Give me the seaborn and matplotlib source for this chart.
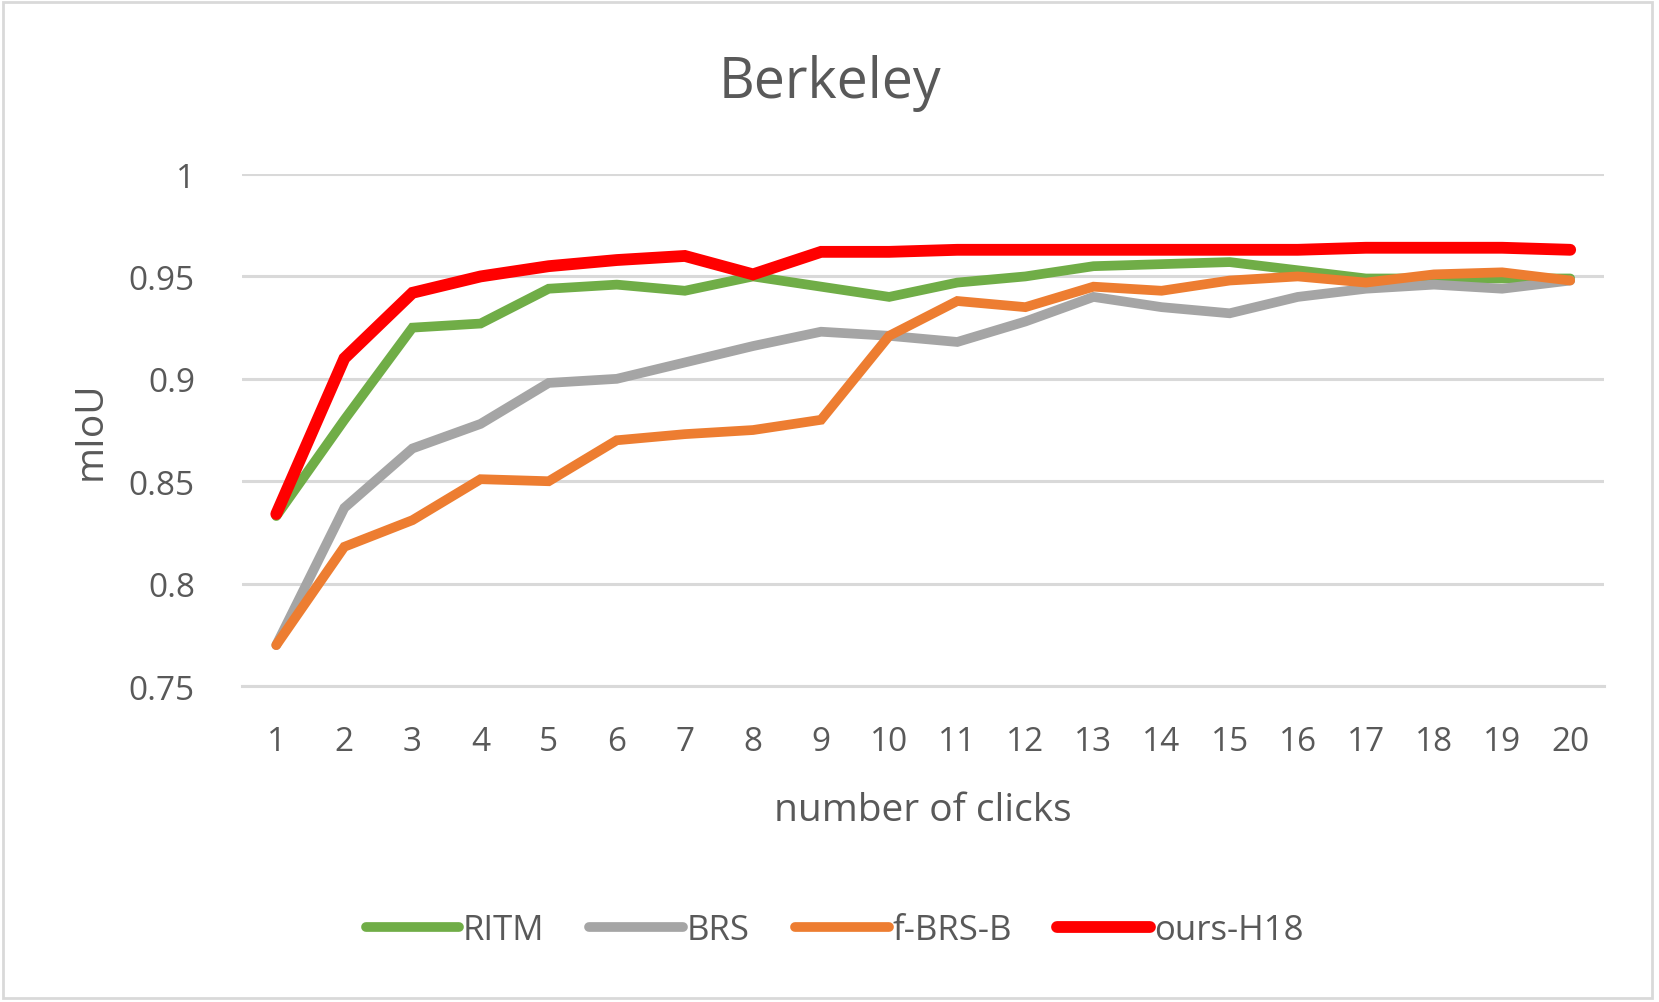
import numpy as np
import pandas as pd
import matplotlib
matplotlib.use("Agg")
import matplotlib.pyplot as plt
import seaborn as sns

# Values
clicks = list(range(1, 21))
ritm = [0.833, 0.880, 0.925, 0.927, 0.944, 0.946, 0.943, 0.950, 0.945, 0.940,
        0.947, 0.950, 0.955, 0.956, 0.957, 0.953, 0.949, 0.949, 0.949, 0.949]
brs = [0.770, 0.837, 0.866, 0.878, 0.898, 0.900, 0.908, 0.916, 0.923, 0.921,
       0.918, 0.928, 0.940, 0.935, 0.932, 0.940, 0.944, 0.946, 0.944, 0.948]
fbrs = [0.770, 0.818, 0.831, 0.851, 0.850, 0.870, 0.873, 0.875, 0.880, 0.921,
        0.938, 0.935, 0.945, 0.943, 0.948, 0.950, 0.947, 0.951, 0.952, 0.948]
ours = [0.834, 0.910, 0.942, 0.950, 0.955, 0.958, 0.960, 0.951, 0.962, 0.962,
        0.963, 0.963, 0.963, 0.963, 0.963, 0.963, 0.964, 0.964, 0.964, 0.963]
series_names = ["RITM", "BRS", "f-BRS-B", "ours-H18"]
yticks = [0.75, 0.8, 0.85, 0.9, 0.95, 1]
ytick_labels = ["0.75", "0.8", "0.85", "0.9", "0.95", "1"]

colors = {"RITM": "#70ad47", "BRS": "#a5a5a5", "f-BRS-B": "#ed7d31", "ours-H18": "#ff0000"}
widths = {"RITM": 7, "BRS": 7, "f-BRS-B": 7, "ours-H18": 8.5}

df = pd.DataFrame({"clicks": clicks, "RITM": ritm, "BRS": brs,
                   "f-BRS-B": fbrs, "ours-H18": ours})
long = df.melt(id_vars="clicks", var_name="method", value_name="mIoU")

sns.set_style("white")
plt.rcParams["font.family"] = ["Open Sans", "DejaVu Sans"]
text_col = "#595959"

fig = plt.figure(figsize=(16.59, 10.03), dpi=100)
ax = fig.add_axes([0.146, 0.315, 0.821, 0.5105])

for name in series_names:
    sub = long[long["method"] == name]
    sns.lineplot(data=sub, x="clicks", y="mIoU", ax=ax, color=colors[name],
                 linewidth=widths[name], label=name, solid_capstyle="round",
                 solid_joinstyle="miter", zorder=3)

ax.set_xlim(0.5, 20.5)
ax.set_ylim(0.75, 1.0)
ax.set_xticks(clicks)
ax.set_xticklabels([str(c) for c in clicks])
ax.set_yticks(yticks)
ax.set_yticklabels(ytick_labels)
ax.yaxis.grid(True, color="#d9d9d9", linewidth=2.2, zorder=0)
ax.xaxis.grid(False)
for s in ax.spines.values():
    s.set_visible(False)
ax.spines["bottom"].set_visible(True)
ax.spines["bottom"].set_color("#d9d9d9")
ax.spines["bottom"].set_linewidth(2.2)
ax.tick_params(axis="both", length=0, labelsize=24, colors=text_col)
ax.tick_params(axis="x", pad=28)
ax.tick_params(axis="y", pad=34)

ax.set_xlabel("number of clicks", fontsize=28, color=text_col, labelpad=24)
ax.set_ylabel("mIoU", fontsize=28, color=text_col, labelpad=14)
fig.text(0.5, 0.917, "Berkeley", ha="center", va="center", fontsize=40, color=text_col)

ax.get_legend().remove()
handles, labels = ax.get_legend_handles_labels()
fig.legend(handles, labels, loc="center", bbox_to_anchor=(0.503, 0.072), ncol=4,
           frameon=False, fontsize=25, handlelength=2.7, columnspacing=1.3,
           handletextpad=0.1, labelcolor=text_col)

fig.patches.append(plt.Rectangle((0.002, 0.004), 0.994, 0.993, transform=fig.transFigure,
                                 fill=False, edgecolor="#d9d9d9", linewidth=2))

fig.savefig("out.png", dpi=100, facecolor="white")
